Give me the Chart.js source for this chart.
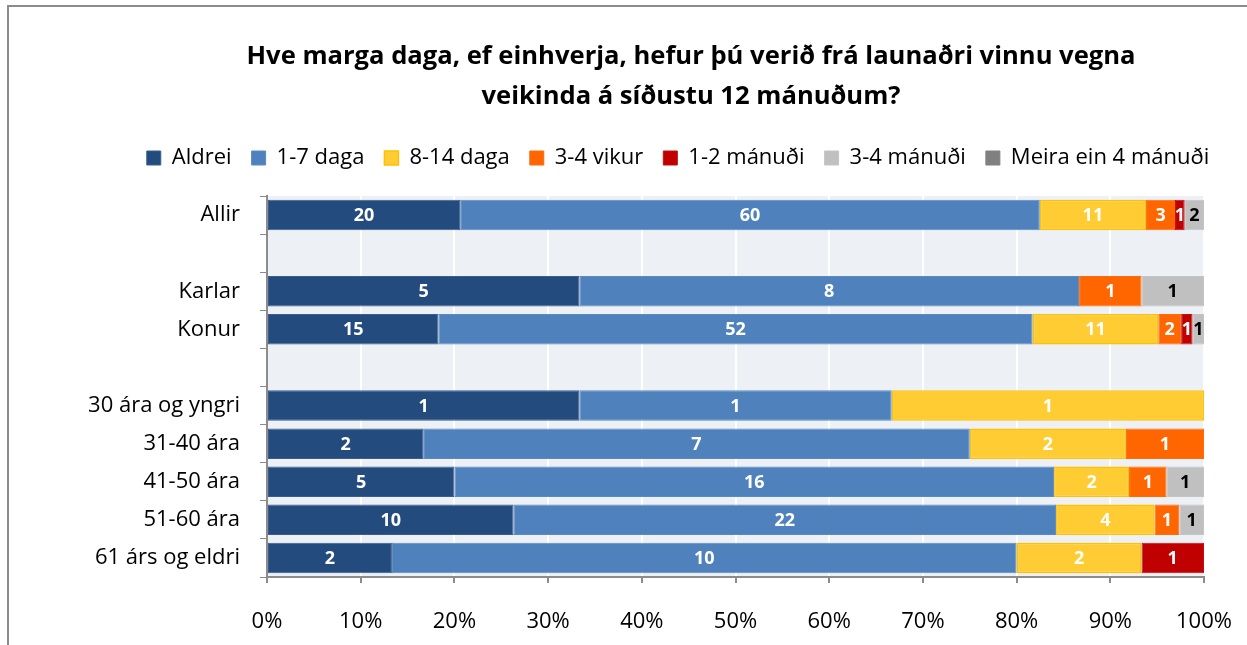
<!DOCTYPE html>
<html>
<head>
<meta charset="utf-8">
<title>Veikindadagar</title>
<script src="https://cdn.jsdelivr.net/npm/chart.js@4.4.0/dist/chart.umd.min.js"></script>
<style>
  html, body { margin: 0; padding: 0; background: #fff; overflow: hidden; }
  #wrap { position: relative; width: 1247px; height: 645px; }
  #wrap canvas { position: absolute; left: 0; top: 0; }
  #frame { position: absolute; left: 7px; top: 5px; right: -20px; bottom: -20px; border: 2px solid #8c8c8c; pointer-events: none; }
</style>
</head>
<body>
<div id="wrap">
  <canvas id="chart" width="1247" height="645"></canvas>
  <div id="frame"></div>
</div>
<script>
/* ── Data (counts per group) ─────────────────── */
const categories = ['Allir', '', 'Karlar', 'Konur', '', '30 ára og yngri', '31-40 ára', '41-50 ára', '51-60 ára', '61 árs og eldri'];
const seriesNames = ['Aldrei', '1-7 daga', '8-14 daga', '3-4 vikur', '1-2 mánuði', '3-4 mánuði', 'Meira ein 4 mánuði'];
const aldrei      = [20, null, 5, 15, null, 1, 2, 5, 10, 2];
const dagar1til7  = [60, null, 8, 52, null, 1, 7, 16, 22, 10];
const dagar8til14 = [11, null, 0, 11, null, 1, 2, 2, 4, 2];
const vikur3til4  = [3, null, 1, 2, null, 0, 1, 1, 1, 0];
const man1til2    = [1, null, 0, 1, null, 0, 0, 0, 0, 1];
const man3til4    = [2, null, 1, 1, null, 0, 0, 1, 1, 0];
const meiraEn4    = [0, null, 0, 0, null, 0, 0, 0, 0, 0];
const xTickValues = [0, 10, 20, 30, 40, 50, 60, 70, 80, 90, 100];

const counts = [aldrei, dagar1til7, dagar8til14, vikur3til4, man1til2, man3til4, meiraEn4];
const fills   = ['#234b7e', '#4f81bd', '#ffcc33', '#ff6600', '#c00000', '#c0c0c0', '#808080'];
const borders = ['#3a5f8f', '#5a8ac2', '#ffc000', '#ff6a0a', '#c21010', '#c4c4c4', '#808080'];
const labelColors = ['#fff', '#fff', '#fff', '#fff', '#fff', '#000', '#000'];

// row totals -> share of each answer in percent
const totals = categories.map((_, i) => counts.reduce((s, arr) => s + (arr[i] || 0), 0));
const toPercent = arr => arr.map((v, i) => (v === null || !totals[i]) ? null : v / totals[i] * 100);

const FONT = '"Open Sans", Lato, sans-serif';
Chart.defaults.font.family = FONT;
Chart.defaults.color = '#000';

/* ── Plugins ─────────────────────────────────── */
const plotBackground = {
  id: 'plotBackground',
  beforeDraw(chart) {
    const { ctx, chartArea: a } = chart;
    ctx.save();
    ctx.fillStyle = '#edf0f5';
    ctx.fillRect(a.left, a.top, a.right - a.left, a.bottom - a.top);
    ctx.restore();
  }
};

// the chart frame runs on past the plot to the right, so title and legend
// are centred on the frame rather than on the canvas
const frameCentre = {
  id: 'frameCentre',
  afterLayout(chart, args, opts) {
    const t = chart.titleBlock, l = chart.legend;
    const tw = t.right - t.left, lw = l.right - l.left;
    t.left = opts.titleX - tw / 2; t.right = t.left + tw;
    l.left = opts.legendX - lw / 2; l.right = l.left + lw;
    l.top += opts.legendDy; l.bottom += opts.legendDy;
  }
};

const countLabels = {
  id: 'countLabels',
  afterDatasetsDraw(chart) {
    const { ctx } = chart;
    ctx.save();
    ctx.font = 'bold 18px ' + FONT;
    ctx.textAlign = 'center';
    ctx.textBaseline = 'middle';
    chart.data.datasets.forEach((ds, di) => {
      chart.getDatasetMeta(di).data.forEach((bar, i) => {
        const n = counts[di][i];
        if (!n) return;
        ctx.fillStyle = labelColors[di];
        ctx.fillText(String(n), (bar.x + bar.base) / 2, bar.y + 1);
      });
    });
    ctx.restore();
  }
};

/* ── Chart ───────────────────────────────────── */
new Chart(document.getElementById('chart'), {
  type: 'bar',
  data: {
    labels: categories,
    datasets: seriesNames.map((name, i) => ({
      label: name,
      data: toPercent(counts[i]),
      backgroundColor: fills[i],
      borderColor: borders[i],
      borderWidth: i === 2 ? 1.5 : 1,
      borderSkipped: false,
      barPercentage: 0.8,
      categoryPercentage: 1
    }))
  },
  options: {
    indexAxis: 'y',
    responsive: false,
    animation: false,
    layout: { padding: { left: 0, right: 43, top: 0, bottom: 0 } },
    plugins: {
      title: {
        display: true,
        text: ['Hve marga daga, ef einhverja, hefur þú verið frá launaðri vinnu vegna', 'veikinda á síðustu 12 mánuðum?'],
        font: { size: 25.6, weight: 'bold', lineHeight: 1.5625 },
        padding: { top: 37, bottom: 27 }
      },
      legend: {
        position: 'top',
        labels: { boxWidth: 14, boxHeight: 14, padding: 20, font: { size: 22 } }
      },
      frameCentre: { titleX: 691, legendX: 678, legendDy: -17 },
      tooltip: { enabled: false }
    },
    scales: {
      x: {
        stacked: true,
        min: 0,
        max: 100,
        afterBuildTicks(scale) { scale.ticks = xTickValues.map(v => ({ value: v })); },
        afterFit(scale) { scale.height = 68; scale.paddingLeft = 0; scale.paddingRight = 0; },
        ticks: { callback: v => v + '%', font: { size: 22 }, padding: 26, maxRotation: 0 },
        grid: { color: '#ffffff', lineWidth: 2, tickColor: '#8c8c8c', tickLength: 6 },
        border: { color: '#8c8c8c', width: 2 }
      },
      y: {
        stacked: true,
        afterFit(scale) { scale.width = 267; },
        ticks: { font: { size: 22 }, padding: 20, autoSkip: false },
        grid: { drawOnChartArea: false, tickColor: '#8c8c8c', tickLength: 7, offset: true },
        border: { color: '#8c8c8c', width: 2 }
      }
    }
  },
  plugins: [plotBackground, frameCentre, countLabels]
});
</script>
</body>
</html>
